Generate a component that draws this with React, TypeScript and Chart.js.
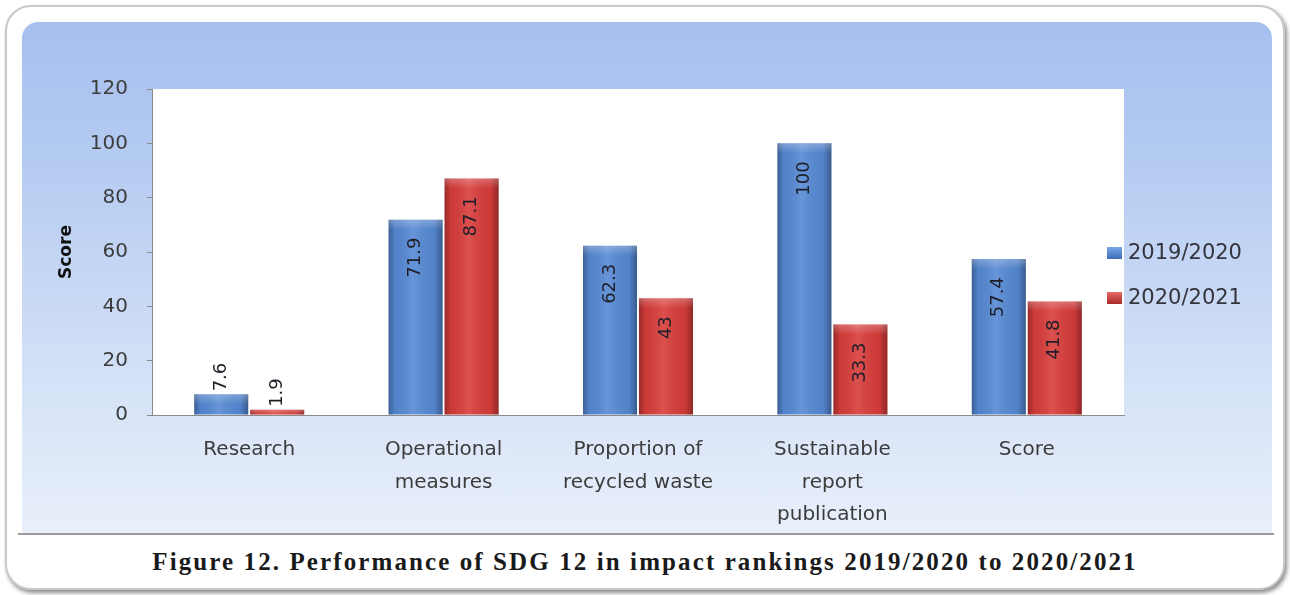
import React, { useEffect, useRef } from "react";
import { Chart, registerables } from "chart.js";

Chart.register(...registerables);

const categories: string[][] = [
  ["Research"],
  ["Operational", "measures"],
  ["Proportion of", "recycled waste"],
  ["Sustainable", "report", "publication"],
  ["Score"],
];
const series2019: number[] = [7.6, 71.9, 62.3, 100, 57.4];
const series2020: number[] = [1.9, 87.1, 43, 33.3, 41.8];
const seriesNames: string[] = ["2019/2020", "2020/2021"];
const yTicks: number[] = [0, 20, 40, 60, 80, 100, 120];
const yTitle = "Score";
const caption = "Figure 12. Performance of SDG 12 in impact rankings 2019/2020 to 2020/2021";

const FONT = "'DejaVu Sans', Verdana, sans-serif";
const BLUE = "#5689d4";
const RED = "#d83d3b";

const plotBgPlugin = {
  id: "plotBg",
  beforeDraw(chart: any) {
    const { ctx, chartArea } = chart;
    if (!chartArea) return;
    ctx.save();
    ctx.fillStyle = "#ffffff";
    ctx.fillRect(chartArea.left, chartArea.top, chartArea.right - chartArea.left, chartArea.bottom - chartArea.top);
    ctx.restore();
  },
};

const shadePlugin = {
  id: "shade",
  afterDatasetsDraw(chart: any) {
    const ctx = chart.ctx;
    chart.data.datasets.forEach((_: any, di: number) => {
      const meta = chart.getDatasetMeta(di);
      meta.data.forEach((el: any) => {
        const { x, y, base, width } = el.getProps(["x", "y", "base", "width"], true);
        const l = x - width / 2;
        const h = base - y;
        if (h <= 0) return;
        const g = ctx.createLinearGradient(l, 0, l + width, 0);
        g.addColorStop(0, "rgba(0,0,0,0.30)");
        g.addColorStop(0.12, "rgba(0,0,0,0.05)");
        g.addColorStop(0.45, "rgba(255,255,255,0.10)");
        g.addColorStop(0.85, "rgba(0,0,0,0.05)");
        g.addColorStop(1, "rgba(0,0,0,0.34)");
        ctx.save();
        ctx.fillStyle = g;
        ctx.fillRect(l, y, width, h);
        const capH = Math.min(10, h);
        const g2 = ctx.createLinearGradient(0, y, 0, y + capH);
        g2.addColorStop(0, "rgba(255,255,255,0.25)");
        g2.addColorStop(1, "rgba(255,255,255,0)");
        ctx.fillStyle = g2;
        ctx.fillRect(l, y, width, capH);
        ctx.restore();
      });
    });
  },
};

const labelPlugin = {
  id: "valueLabels",
  afterDatasetsDraw(chart: any) {
    const ctx = chart.ctx;
    ctx.save();
    ctx.font = `18px ${FONT}`;
    ctx.fillStyle = "#1e1e28";
    ctx.textBaseline = "middle";
    chart.data.datasets.forEach((ds: any, di: number) => {
      const meta = chart.getDatasetMeta(di);
      meta.data.forEach((el: any, i: number) => {
        const { x, y, base } = el.getProps(["x", "y", "base"], true);
        const text = String(ds.data[i]);
        const tw = ctx.measureText(text).width;
        const h = base - y;
        ctx.save();
        ctx.translate(x, 0);
        ctx.rotate(-Math.PI / 2);
        if (h > tw + 30) {
          ctx.textAlign = "right";
          ctx.fillText(text, -(y + 18), 0);
        } else {
          ctx.textAlign = "left";
          ctx.fillText(text, -(y - 3), 0);
        }
        ctx.restore();
      });
    });
    ctx.restore();
  },
};

const legendPlugin = {
  id: "sideLegend",
  afterDraw(chart: any) {
    const ctx = chart.ctx;
    ctx.save();
    ctx.font = `21px ${FONT}`;
    ctx.textBaseline = "middle";
    ctx.textAlign = "left";
    const ys = [231, 276];
    chart.data.datasets.forEach((ds: any, di: number) => {
      const cy = ys[di];
      const mx = 1085;
      const g = ctx.createLinearGradient(0, cy - 6, 0, cy + 6);
      g.addColorStop(0, di === 0 ? "#7aa6e6" : "#e86a66");
      g.addColorStop(1, di === 0 ? "#3b6cb5" : "#a82a2a");
      ctx.fillStyle = g;
      ctx.fillRect(mx, cy - 6, 15, 12);
      ctx.fillStyle = "#34343c";
      ctx.fillText(ds.label, mx + 21, cy + 1);
    });
    ctx.restore();
  },
};

function ChartCanvas() {
  const ref = useRef<HTMLCanvasElement | null>(null);
  useEffect(() => {
    if (!ref.current) return;
    const chart = new Chart(ref.current, {
      type: "bar",
      data: {
        labels: categories,
        datasets: [
          {
            label: seriesNames[0],
            data: series2019,
            backgroundColor: BLUE,
            borderWidth: 0,
            categoryPercentage: 0.576,
            barPercentage: 0.965,
          },
          {
            label: seriesNames[1],
            data: series2020,
            backgroundColor: RED,
            borderWidth: 0,
            categoryPercentage: 0.576,
            barPercentage: 0.965,
          },
        ],
      },
      options: {
        responsive: false,
        animation: false,
        maintainAspectRatio: false,
        layout: { padding: { left: 0, right: 148, top: 67, bottom: 0 } },
        plugins: {
          legend: { display: false },
          tooltip: { enabled: false },
          title: { display: false },
        },
        scales: {
          x: {
            type: "category",
            afterFit(scale: any) {
              scale.height = 118;
            },
            grid: { display: false, drawTicks: false },
            border: { display: true, color: "#8a8a8a", width: 1 },
            ticks: {
              padding: 19,
              color: "#3c3c3c",
              maxRotation: 0,
              minRotation: 0,
              autoSkip: false,
              font: { family: FONT, size: 20, lineHeight: "32.5px" },
            },
          },
          y: {
            min: 0,
            max: 120,
            afterFit(scale: any) {
              scale.width = 130;
            },
            afterBuildTicks(scale: any) {
              scale.ticks = yTicks.map((v) => ({ value: v }));
            },
            grid: {
              display: true,
              drawOnChartArea: false,
              drawTicks: true,
              tickLength: 5,
              tickColor: "#8a8a8a",
            },
            border: { display: true, color: "#8a8a8a", width: 1 },
            ticks: {
              padding: 19,
              color: "#3c3c3c",
              font: { family: FONT, size: 20 },
            },
            title: {
              display: true,
              text: yTitle,
              color: "#111111",
              padding: { top: 34, bottom: 0 },
              font: { family: FONT, size: 17, weight: "bold", lineHeight: 1.2 },
            },
          },
        },
      },
      plugins: [plotBgPlugin, shadePlugin, labelPlugin, legendPlugin],
    } as any);
    return () => chart.destroy();
  }, []);
  return <canvas ref={ref} width={1250} height={511} style={{ display: "block" }} />;
}

export default function App() {
  return (
    <div
      style={{
        position: "absolute",
        left: 0,
        top: 0,
        width: 1290,
        height: 595,
        background: "#ffffff",
        overflow: "hidden",
      }}
    >
      <div
        style={{
          position: "absolute",
          left: 5,
          top: 5,
          width: 1280,
          height: 585,
          boxSizing: "border-box",
          border: "2px solid #c9c9c9",
          borderRadius: 26,
          background: "#ffffff",
          boxShadow: "2px 3px 4px rgba(0,0,0,0.45)",
        }}
      />
      <div
        style={{
          position: "absolute",
          left: 22,
          top: 22,
          width: 1250,
          height: 511,
          borderRadius: "16px 16px 0 0",
          background:
            "linear-gradient(to bottom, #a6bfee 0%, #b3caf1 25%, #cddcf5 60%, #e9f0fb 100%)",
        }}
      />
      <div
        style={{
          position: "absolute",
          left: 18,
          top: 533,
          width: 1256,
          height: 2,
          background: "#9c9c9c",
        }}
      />
      <div style={{ position: "absolute", left: 22, top: 22, width: 1250, height: 511 }}>
        <ChartCanvas />
      </div>
      <div
        style={{
          position: "absolute",
          left: 0,
          top: 547,
          width: 1290,
          textAlign: "center",
          fontFamily: "'Liberation Serif', 'DejaVu Serif', serif",
          fontWeight: "bold",
          fontSize: 25,
          letterSpacing: "2.1px",
          color: "#1a1a1a",
          lineHeight: "30px",
          whiteSpace: "nowrap",
        }}
      >
        {caption}
      </div>
    </div>
  );
}
